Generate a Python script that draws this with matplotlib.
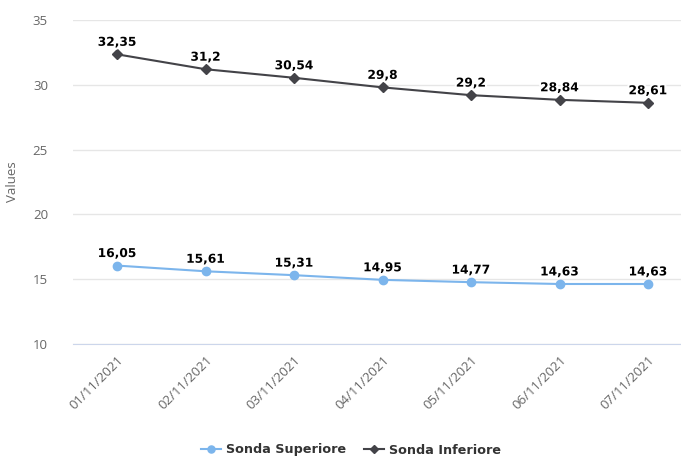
import matplotlib
matplotlib.use("Agg")
import matplotlib.pyplot as plt
import matplotlib.patheffects as pe

plt.rcParams["font.family"] = ["Open Sans", "DejaVu Sans"]

categories = ["01/11/2021", "02/11/2021", "03/11/2021", "04/11/2021",
              "05/11/2021", "06/11/2021", "07/11/2021"]
sonda_superiore = [16.05, 15.61, 15.31, 14.95, 14.77, 14.63, 14.63]
sonda_inferiore = [32.35, 31.2, 30.54, 29.8, 29.2, 28.84, 28.61]
series_names = ["Sonda Superiore", "Sonda Inferiore"]
yticks = [10, 15, 20, 25, 30, 35]

W, H = 681, 457
fig = plt.figure(figsize=(W / 100, H / 100), dpi=100)
left, right, top, bottom = 73, 681, 20, 344
ax = fig.add_axes([left / W, 1 - bottom / H, (right - left) / W, (bottom - top) / H])

x = list(range(len(categories)))
c1, c2 = "#7cb5ec", "#434348"
l1, = ax.plot(x, sonda_superiore, color=c1, lw=1.5, marker="o", ms=6, label=series_names[0], zorder=3)
l2, = ax.plot(x, sonda_inferiore, color=c2, lw=1.5, marker="D", ms=4.8, label=series_names[1], zorder=3)

outline = [pe.withStroke(linewidth=3, foreground="white")]
for xs, ys in ((x, sonda_superiore), (x, sonda_inferiore)):
    for xi, yi in zip(xs, ys):
        ax.annotate(f"{yi:g}".replace(".", ","), (xi, yi), xytext=(0, 4), textcoords="offset points",
                    ha="center", va="bottom", fontsize=8.8, fontweight="bold", color="#000000",
                    family="DejaVu Sans", path_effects=outline, zorder=4)

ax.set_xlim(-0.5, (right - 117) / 88.5)
ax.set_ylim(10, 35)
ax.set_yticks(yticks)
ax.set_xticks(x)
ax.set_xticklabels(categories, rotation=45, ha="right", va="top", rotation_mode="anchor",
                   fontsize=9.5, color="#666666")
ax.tick_params(axis="y", length=0, labelsize=9.5, labelcolor="#666666", pad=18)
ax.tick_params(axis="x", length=0, pad=7)
ax.grid(axis="y", color="#e6e6e6", lw=1)
ax.set_axisbelow(True)
for s in ("top", "right", "left"):
    ax.spines[s].set_visible(False)
ax.spines["bottom"].set_color("#ccd6eb")
ax.set_ylabel("Values", color="#666666", fontsize=9.5)
ax.yaxis.set_label_coords(-(73 - 19) / (right - left), 0.5)

fig.legend(handles=[l1, l2], loc="center", bbox_to_anchor=(351 / W, 1 - 450 / H), ncol=2, frameon=False,
           prop={"family": "DejaVu Sans", "weight": "bold", "size": 9.2}, handlelength=1.55,
           columnspacing=1.4, handletextpad=0.4, labelcolor="#333333", markerscale=0.85)

fig.savefig("out.png", dpi=100)
